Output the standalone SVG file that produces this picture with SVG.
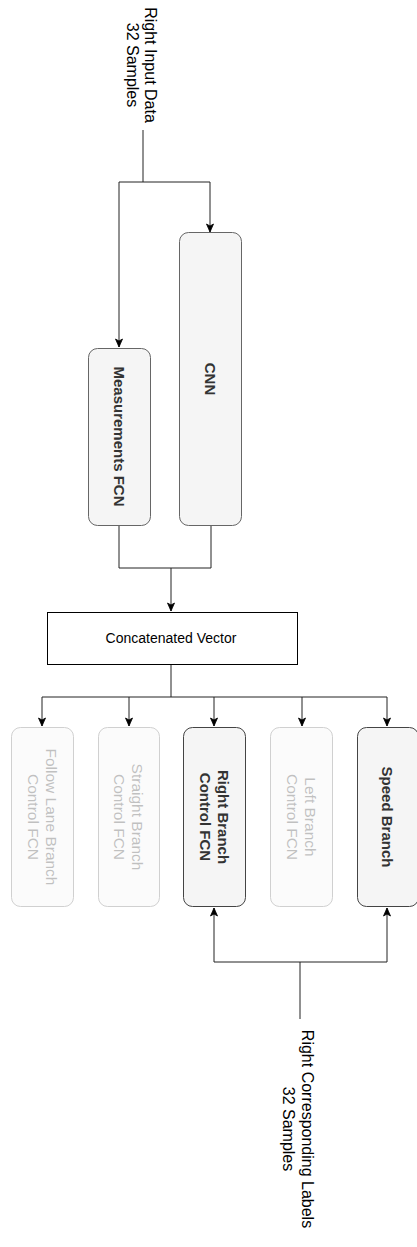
<svg xmlns="http://www.w3.org/2000/svg" width="417" height="1247" viewBox="0 0 417 1247">
<style>
text{font-family:"Liberation Sans",Arial,sans-serif;text-anchor:middle}
.lbl{font-size:16px;fill:#000}
.box{fill:#f5f5f5;stroke:#666;stroke-width:1}
.boxd{fill:#f5f5f5;stroke:#444;stroke-width:1}
.bt{font-size:15px;font-weight:bold;fill:#333}
.ft{font-size:15.5px;fill:#333}
.faded{opacity:0.3}
.edge{fill:none;stroke:#222;stroke-width:1}
</style>
<defs>
<marker id="arr" markerUnits="userSpaceOnUse" markerWidth="10" markerHeight="10" viewBox="0 0 10 10" refX="9" refY="5" orient="auto">
<path d="M1,1.5 L9,5 L1,8.5 L3,5 Z" fill="#000" stroke="#000" stroke-width="0.8"/>
</marker>
</defs>
<rect width="417" height="1247" fill="#fff"/>

<g id="connectors">
<polyline class="edge" points="143,130 143,182"/>
<polyline class="edge" points="119,182 210,182"/>
<polyline class="edge" points="119,182 119,347" marker-end="url(#arr)"/>
<polyline class="edge" points="210,182 210,232" marker-end="url(#arr)"/>
<polyline class="edge" points="119,525 119,568 211,568 211,525"/>
<polyline class="edge" points="171,568 171,611" marker-end="url(#arr)"/>
<polyline class="edge" points="171,664 171,697"/>
<polyline class="edge" points="42,697 387,697"/>
<polyline class="edge" points="42,697 42,726" marker-end="url(#arr)"/>
<polyline class="edge" points="129,697 129,726" marker-end="url(#arr)"/>
<polyline class="edge" points="214,697 214,726" marker-end="url(#arr)"/>
<polyline class="edge" points="302,697 302,726" marker-end="url(#arr)"/>
<polyline class="edge" points="387,697 387,726" marker-end="url(#arr)"/>
<polyline class="edge" points="300,1019 300,962"/>
<polyline class="edge" points="214,962 387,962"/>
<polyline class="edge" points="214,962 214,908" marker-end="url(#arr)"/>
<polyline class="edge" points="387,962 387,908" marker-end="url(#arr)"/>
</g>

<g id="input-label">
<text class="lbl" transform="translate(136,65) rotate(90)"><tspan x="0" y="-9">Right Input Data</tspan><tspan x="0" y="9">32 Samples</tspan></text>
</g>

<g id="measurements">
<rect class="box" x="88.5" y="348.5" width="62" height="177" rx="9"/>
<text class="bt" transform="translate(119.5,436.5) rotate(90)" y="5.3">Measurements FCN</text>
</g>

<g id="cnn">
<rect class="box" x="179.5" y="232.5" width="62" height="293" rx="9"/>
<text class="bt" transform="translate(210.5,379) rotate(90)" y="5.3">CNN</text>
</g>

<g id="concat">
<rect x="47.5" y="612.5" width="250" height="52" fill="#fff" stroke="#000" stroke-width="1"/>
<text x="171" y="643" font-size="14px" fill="#000">Concatenated Vector</text>
</g>

<g id="follow-lane" class="faded">
<rect class="box" x="11.5" y="727.5" width="62" height="179" rx="9"/>
<text class="ft" transform="translate(42.5,817) rotate(90)"><tspan x="0" y="-3">Follow Lane Branch</tspan><tspan x="0" y="15">Control FCN</tspan></text>
</g>

<g id="straight" class="faded">
<rect class="box" x="98.5" y="727.5" width="61" height="179" rx="9"/>
<text class="ft" transform="translate(129,817) rotate(90)"><tspan x="0" y="-3">Straight Branch</tspan><tspan x="0" y="15">Control FCN</tspan></text>
</g>

<g id="right-branch">
<rect class="boxd" x="183.5" y="727.5" width="62" height="179" rx="9"/>
<text class="bt" transform="translate(214.5,817) rotate(90)"><tspan x="0" y="-3.7">Right Branch</tspan><tspan x="0" y="14.3">Control FCN</tspan></text>
</g>

<g id="left-branch" class="faded">
<rect class="box" x="270.5" y="727.5" width="62" height="179" rx="9"/>
<text class="ft" transform="translate(301.5,817) rotate(90)"><tspan x="0" y="-3">Left Branch</tspan><tspan x="0" y="15">Control FCN</tspan></text>
</g>

<g id="speed">
<rect class="boxd" x="357.5" y="727.5" width="61" height="179" rx="9"/>
<text class="bt" transform="translate(387.5,817) rotate(90)" y="5.3">Speed Branch</text>
</g>

<g id="labels-label">
<text class="lbl" transform="translate(292.5,1129) rotate(90)"><tspan x="0" y="-9.5">Right Corresponding Labels</tspan><tspan x="0" y="9.5">32 Samples</tspan></text>
</g>
</svg>
